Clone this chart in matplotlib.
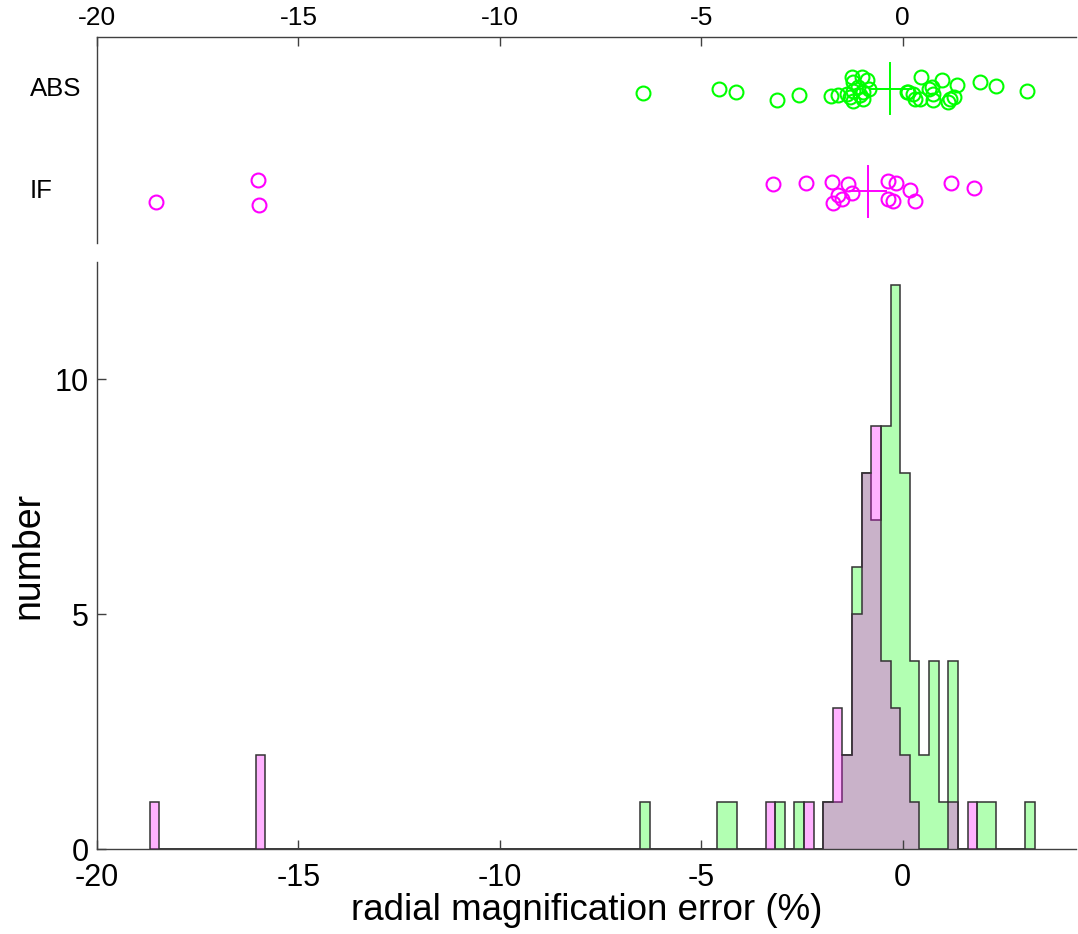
import numpy as np
import matplotlib
matplotlib.use("Agg")
import matplotlib.pyplot as plt
from matplotlib.transforms import blended_transform_factory

plt.rcParams['font.family'] = ['Liberation Sans', 'DejaVu Sans']

# ---------------- data ----------------
# histogram bins (common grid)
bin_start = -18.69
bin_width = 0.2388
n_bins = 92

abs_bin_idx = [51, 59, 60, 65, 67, 70, 71, 72, 73, 74, 75, 76, 77, 78, 79, 80, 81, 82, 83, 86, 87, 91]
abs_counts = [1, 1, 1, 1, 1, 1, 1, 2, 6, 8, 7, 9, 12, 8, 4, 2, 4, 1, 4, 1, 1, 1]

if_bin_idx = [0, 11, 64, 68, 70, 71, 72, 73, 74, 75, 76, 77, 78, 79, 83, 85]
if_counts = [1, 2, 1, 1, 1, 3, 2, 5, 8, 9, 4, 3, 2, 1, 1, 1]

# scatter (top panel): x values and vertical jitter
abs_x = [-6.46, -4.55, -4.14, -3.12, -2.57,
         -1.77, -1.60, -1.27, -1.02, -0.89, -1.23, -1.39, -1.23, -1.10, -0.98,
         -1.31, -1.06, -1.23, -0.98, -0.85,
         0.45, 0.97, 1.34, 1.92, 2.31, 3.08, 0.10, 0.26, 0.31, 0.72, 0.76, 0.76,
         1.17, 1.26, 1.13, 0.64, 0.14, 0.43]
abs_y = [1.96, 2.00, 1.97, 1.89, 1.935,
         1.925, 1.935, 2.11, 2.11, 2.08, 2.06, 1.95, 1.98, 2.02, 1.97,
         1.92, 1.935, 1.88, 1.90, 2.00,
         2.11, 2.08, 2.04, 2.06, 2.03, 1.98, 1.97, 1.95, 1.90, 2.02, 1.95, 1.89,
         1.90, 1.92, 1.87, 2.00, 1.97, 1.90]

if_x = [-18.53, -16.0, -15.98, -3.21, -2.40, -1.75, -1.35, -1.60, -1.72, -1.51,
        -1.27, -0.36, -0.17, 0.18, 0.31, -0.36, -0.23, 1.20, 1.77]
if_y = [0.893, 1.11, 0.867, 1.069, 1.078, 1.088, 1.072, 0.965, 0.89, 0.93,
        0.98, 1.10, 1.08, 1.01, 0.91, 0.93, 0.91, 1.08, 1.03]

abs_center, abs_lo, abs_hi = -0.32, -0.82, 0.20
if_center, if_lo, if_hi = -0.87, -1.30, -0.42

group_labels = ['IF', 'ABS']
group_pos = [1, 2]
x_ticks = [-20, -15, -10, -5, 0]
y_ticks = [0, 5, 10]

# ---------------- figure ----------------
W, H = 1078, 934
fig = plt.figure(figsize=(W / 100, H / 100), dpi=100)

green = (0.0, 1.0, 0.0)
magenta = (1.0, 0.0, 1.0)
edge = (0.2, 0.2, 0.2)
spine_c = (0.25, 0.25, 0.25)

# main histogram axes
ax = fig.add_axes([97 / W, (H - 849.3) / H, (1076 - 97) / W, (849.3 - 262) / H])
edges = bin_start + bin_width * np.arange(n_bins + 1)
abs_hist = np.zeros(n_bins)
abs_hist[abs_bin_idx] = abs_counts
if_hist = np.zeros(n_bins)
if_hist[if_bin_idx] = if_counts

ax.stairs(abs_hist, edges, fill=True, facecolor=green + (0.3,), edgecolor=edge, linewidth=1.1)
ax.stairs(if_hist, edges, fill=True, facecolor=magenta + (0.3,), edgecolor=edge, linewidth=1.1)

ax.set_xlim(-20, 4.3)
ax.set_ylim(0, 12.5)
ax.set_xticks(x_ticks)
ax.set_xticklabels([str(t) for t in x_ticks])
ax.set_yticks(y_ticks)
for s in ['top', 'right']:
    ax.spines[s].set_visible(False)
for s in ['left', 'bottom']:
    ax.spines[s].set_color(spine_c)
    ax.spines[s].set_linewidth(1.0)
ax.tick_params(direction='in', length=6.5, width=1.0, color=spine_c, labelsize=22)
ax.tick_params(axis='x', pad=10)
ax.tick_params(axis='y', pad=6)
ax.set_xlabel('radial magnification error (%)', fontsize=26.5, labelpad=0)
ax.set_ylabel('number', fontsize=27, labelpad=6)

# top scatter axes
ax2 = fig.add_axes([97 / W, (H - 242.7) / H, (1076 - 97) / W, (242.7 - 37.3) / H])
ax2.plot(abs_x, abs_y, 'o', mfc='none', mec=green, ms=10, mew=1.5, zorder=3)
ax2.plot(if_x, if_y, 'o', mfc='none', mec=magenta, ms=10, mew=1.5, zorder=3)
ax2.plot([abs_lo, abs_hi], [2, 2], color=green, lw=1.4)
ax2.plot([abs_center, abs_center], [1.75, 2.25], color=green, lw=1.4)
ax2.plot([if_lo, if_hi], [1, 1], color=magenta, lw=1.4)
ax2.plot([if_center, if_center], [0.75, 1.25], color=magenta, lw=1.4)

ax2.set_xlim(-20, 4.3)
ax2.set_ylim(0.5, 2.5)
ax2.set_xticks(x_ticks)
ax2.set_xticklabels([str(t) for t in x_ticks])
ax2.xaxis.tick_top()
ax2.set_yticks(group_pos)
ax2.set_yticklabels(['', ''])
lab_tr = blended_transform_factory(fig.transFigure, ax2.transData)
for lab, pos in zip(group_labels, group_pos):
    ax2.text(30 / W, pos, lab, transform=lab_tr, ha='left', va='center', fontsize=18.5)
for s in ['bottom', 'right']:
    ax2.spines[s].set_visible(False)
for s in ['left', 'top']:
    ax2.spines[s].set_color(spine_c)
    ax2.spines[s].set_linewidth(1.0)
ax2.tick_params(axis='x', direction='in', length=6.5, width=1.0, color=spine_c, labelsize=19, pad=5)
ax2.tick_params(axis='y', length=0)

fig.savefig('out.png', dpi=100)
